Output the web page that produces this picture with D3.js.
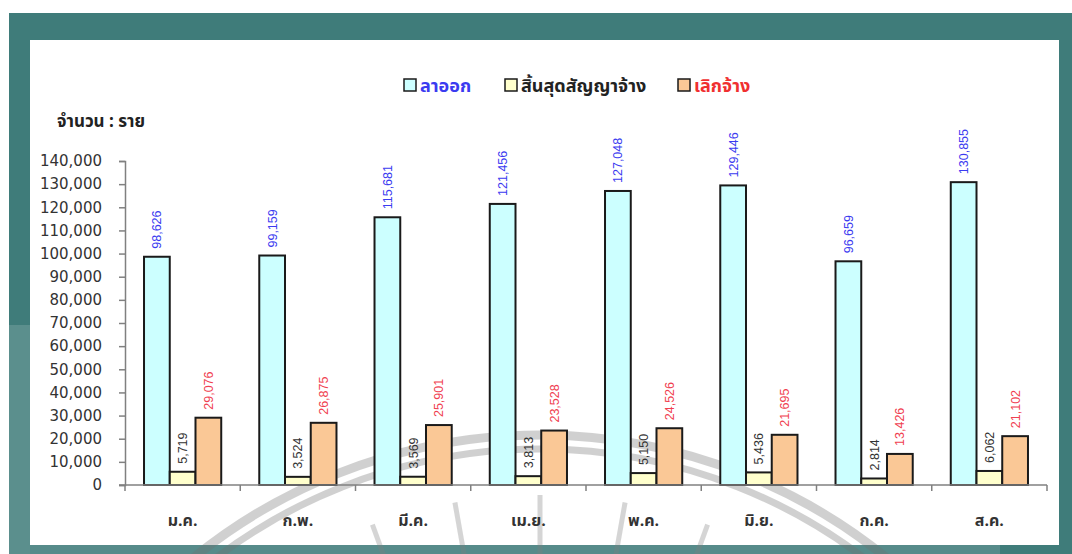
<!DOCTYPE html>
<html lang="th">
<head>
  <meta charset="UTF-8">
  <title>chart</title>
  <script src="https://d3js.org/d3.v7.min.js"></script>
  <style>
    body { margin: 0; background: #fff; }
    svg { display: block; }
  </style>
</head>
<body>
  <svg id="chart" width="1072" height="554"></svg>

  <script>
    // data
    const months = ["ม.ค.", "ก.พ.", "มี.ค.", "เม.ย.", "พ.ค.", "มิ.ย.", "ก.ค.", "ส.ค."];
    const seriesNames = ["ลาออก", "สิ้นสุดสัญญาจ้าง", "เลิกจ้าง"];
    const resigned = [98626, 99159, 115681, 121456, 127048, 129446, 96659, 130855];
    const contractEnd = [5719, 3524, 3569, 3813, 5150, 5436, 2814, 6062];
    const laidOff = [29076, 26875, 25901, 23528, 24526, 21695, 13426, 21102];
    const yTicks = [0, 10000, 20000, 30000, 40000, 50000, 60000, 70000, 80000, 90000, 100000, 110000, 120000, 130000, 140000];

    const fills = ["#ccffff", "#ffffcc", "#fac896"];
    const labelColors = ["#3b3bf0", "#333333", "#f04050"];
    const thaiFont = "'Noto Sans Thai', Tahoma, 'DejaVu Sans', sans-serif";

    const svg = d3.select("#chart");

    // frame
    svg.append("rect").attr("x", 9).attr("y", 13).attr("width", 1063).attr("height", 541).attr("fill", "#3f7c7a");
    svg.append("rect").attr("x", 30).attr("y", 40).attr("width", 1029).attr("height", 505).attr("fill", "#ffffff");
    // lighter wash over the lower left of the frame
    svg.append("rect").attr("x", 0).attr("y", 325).attr("width", 30).attr("height", 229).attr("fill", "#ffffff").attr("opacity", 0.15);
    svg.append("rect").attr("x", 30).attr("y", 545).attr("width", 970).attr("height", 9).attr("fill", "#ffffff").attr("opacity", 0.12);

    // watermark
    const wm = svg.append("g").attr("opacity", 0.32);
    [[550, 9], [536, 7]].forEach(([r, w]) => {
      wm.append("circle").attr("cx", 540).attr("cy", 985).attr("r", r)
        .attr("fill", "none").attr("stroke", "#707070").attr("stroke-width", w);
    });
    d3.range(-60, 61, 10).forEach(a => {
      const rad = (a - 90) * Math.PI / 180;
      wm.append("line")
        .attr("x1", 540 + Math.cos(rad) * 380).attr("y1", 985 + Math.sin(rad) * 380)
        .attr("x2", 540 + Math.cos(rad) * 490).attr("y2", 985 + Math.sin(rad) * 490)
        .attr("stroke", "#808080").attr("stroke-width", 5);
    });

    const x = d3.scaleBand().domain(months).range([125, 1047]).padding(0);
    const y = d3.scaleLinear().domain([0, 140000]).range([485, 161]);
    const groupW = x.bandwidth() * 0.67;
    const xs = d3.scaleBand().domain(seriesNames).range([0, groupW]).padding(0);

    // y axis
    const yAxis = svg.append("g").attr("transform", "translate(125,0)")
      .call(d3.axisLeft(y).tickValues(yTicks).tickSize(6).tickPadding(17).tickFormat(d3.format(",")));
    yAxis.selectAll("path, line").attr("stroke", "#808080").attr("stroke-width", 1.5);
    yAxis.selectAll("text").attr("fill", "#333").style("font-family", "'DejaVu Sans', sans-serif").style("font-size", "15px");

    // bars
    const table = months.map((m, i) => ({ month: m, values: [resigned[i], contractEnd[i], laidOff[i]] }));
    const groups = svg.append("g").selectAll("g").data(table).join("g")
      .attr("transform", d => `translate(${x(d.month) + (x.bandwidth() - groupW) / 2},0)`);

    groups.selectAll("rect").data(d => d.values.map((v, k) => ({ k, v }))).join("rect")
      .attr("x", d => xs(seriesNames[d.k]))
      .attr("y", d => y(d.v))
      .attr("width", xs.bandwidth())
      .attr("height", d => y(0) - y(d.v))
      .attr("fill", d => fills[d.k])
      .attr("stroke", "#1a1a1a").attr("stroke-width", 2);

    groups.selectAll("text").data(d => d.values.map((v, k) => ({ k, v }))).join("text")
      .attr("transform", d => `translate(${xs(seriesNames[d.k]) + xs.bandwidth() / 2 + 4.5},${y(d.v) - 8}) rotate(-90)`)
      .attr("fill", d => labelColors[d.k])
      .style("font-family", "'Liberation Sans', Arial, sans-serif")
      .style("font-size", "12.5px")
      .text(d => d3.format(",")(d.v));

    // x axis
    const xAxis = svg.append("g").attr("transform", "translate(0,485)");
    xAxis.append("line").attr("x1", 119).attr("x2", 1047).attr("stroke", "#808080").attr("stroke-width", 1.5);
    xAxis.selectAll("line.tick").data(months.concat(["end"])).join("line")
      .attr("class", "tick")
      .attr("x1", (d, i) => i < months.length ? x(d) : x.range()[1])
      .attr("x2", (d, i) => i < months.length ? x(d) : x.range()[1])
      .attr("y1", 0).attr("y2", 6)
      .attr("stroke", "#808080").attr("stroke-width", 1.5);
    xAxis.selectAll("text").data(months).join("text")
      .attr("x", d => x(d) + x.bandwidth() / 2)
      .attr("y", 41)
      .attr("text-anchor", "middle")
      .attr("fill", "#333")
      .style("font-family", thaiFont)
      .style("font-size", "16px")
      .style("font-weight", "bold")
      .text(d => d);

    // unit label
    svg.append("text").attr("x", 57).attr("y", 127)
      .attr("fill", "#222").style("font-family", thaiFont).style("font-size", "17px").style("font-weight", "bold")
      .text("จำนวน : ราย");

    // legend
    const legendX = [404, 505, 678];
    const legendColors = ["#3b3bf0", "#222222", "#f03030"];
    const legend = svg.append("g").selectAll("g").data(seriesNames).join("g")
      .attr("transform", (d, i) => `translate(${legendX[i]},79)`);
    legend.append("rect").attr("width", 12).attr("height", 12)
      .attr("fill", (d, i) => fills[i]).attr("stroke", "#1a1a1a").attr("stroke-width", 1.5);
    legend.append("text").attr("x", 16).attr("y", 13)
      .attr("fill", (d, i) => legendColors[i])
      .style("font-family", thaiFont).style("font-size", "18px").style("font-weight", "bold")
      .text(d => d);
  </script>
</body>
</html>
